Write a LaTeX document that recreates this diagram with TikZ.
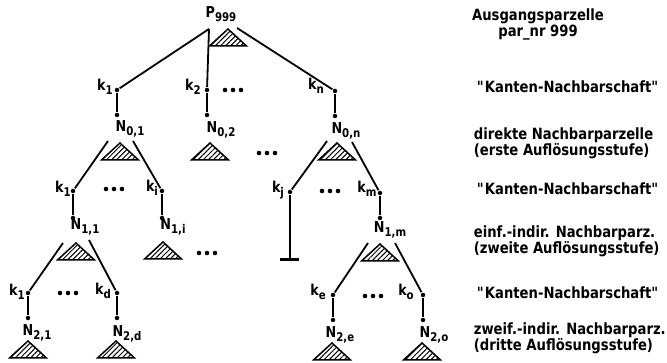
\documentclass[tikz,border=0pt]{standalone}
\usepackage{fontspec}
\setmainfont{DejaVu Sans}[FakeStretch=0.85]
\usetikzlibrary{patterns.meta}
\newcommand\labsub[2]{#1\raisebox{-4.5pt}{\fontsize{12}{12}\selectfont#2}}
\newcommand\qq{\XeTeXglyph\number\XeTeXcharglyph"22\relax}
\begin{document}
\begin{tikzpicture}[x=1pt,y=-1pt, line width=1.8pt,
 dot/.style={circle,fill,inner sep=0pt,minimum size=4.5pt},
 lbl/.style={font=\fontsize{15}{17}\selectfont\bfseries, inner sep=0pt},
 note/.style={font=\fontsize{15.5}{16}\selectfont\bfseries, inner sep=0pt, anchor=west},
 htri/.pic={\draw[line width=1.5pt, pattern={Lines[angle=45,distance=3.6pt,line width=1pt]}] (0,0) -- (18.5,17) -- (-18.5,17) -- cycle;},
 ell/.pic={\foreach \i in {-8,0,8} \fill (\i,0) circle (2.3pt);}
]
\useasboundingbox (0,0) rectangle (667,363);

% ---------- level 0 (root) ----------
\node[lbl] (P) at (221,14) {\labsub{P}{999}};
\coordinate (rootL) at (209,29);
\coordinate (rootR) at (237,28);
\pic at (228,29) {htri};

\node[dot] (ka1) at (117,90) {};
\node[dot] (ka2) at (207,90) {};
\node[dot] (kan) at (335,91) {};
\node[dot] (n01) at (117,115) {};
\node[dot] (n02) at (207,115) {};
\node[dot] (n0n) at (335,116) {};
\draw (rootL) -- (ka1);
\draw (rootL) -- (ka2);
\draw (rootR) -- (kan);
\draw (ka1) -- (n01);
\draw (ka2) -- (n02);
\draw (kan) -- (n0n);
\node[lbl] (lka1) at (105,87) {\labsub{k}{1}};
\node[lbl] (lka2) at (193,87) {\labsub{k}{2}};
\node[lbl] (lkan) at (316,86) {\labsub{k}{n}};
\pic at (233,90) {ell};

% ---------- level 1 ----------
\node[lbl] (N01) at (130,129) {\labsub{N}{0,1}};
\node[lbl] (N02) at (221,130) {\labsub{N}{0,2}};
\node[lbl] (N0n) at (346,131) {\labsub{N}{0,n}};
\pic at (120,143) {htri};
\pic at (210,143) {htri};
\pic at (337,143) {htri};
\pic at (267,153) {ell};

\coordinate (s01l) at (108,141);
\coordinate (s01r) at (133,141);
\coordinate (s0nl) at (327,141);
\coordinate (s0nr) at (352,142);
\node[dot] (kb1) at (73,191) {};
\node[dot] (kbi) at (162,191) {};
\node[dot] (kbj) at (290,192) {};
\node[dot] (kbm) at (380,193) {};
\node[dot] (n11) at (73,218) {};
\node[dot] (n1i) at (162,218) {};
\node[dot] (n1m) at (380,218) {};
\coordinate (tend) at (290,260);
\draw (s01l) -- (kb1);
\draw (s01r) -- (kbi);
\draw (s0nl) -- (kbj);
\draw (s0nr) -- (kbm);
\draw (kb1) -- (n11);
\draw (kbi) -- (n1i);
\draw (kbj) -- (tend);
\draw (kbm) -- (n1m);
\draw[line width=3pt] ([xshift=-10pt]tend) -- ([xshift=9pt]tend);
\node[lbl] (lkb1) at (63,189) {\labsub{k}{1}};
\node[lbl] (lkbi) at (152,188) {\labsub{k}{i}};
\node[lbl] (lkbj) at (278,190) {\labsub{k}{j}};
\node[lbl] (lkbm) at (367,189) {\labsub{k}{m}};
\pic at (114,189) {ell};
\pic at (330,191) {ell};

% ---------- level 2 ----------
\node[lbl] (N11) at (85,227) {\labsub{N}{1,1}};
\node[lbl] (N1i) at (173,227) {\labsub{N}{1,i}};
\node[lbl] (N1m) at (390,230) {\labsub{N}{1,m}};
\pic at (76,243) {htri};
\pic at (163,242) {htri};
\pic at (380,244) {htri};
\pic at (207,253) {ell};

\coordinate (s11l) at (63,243);
\coordinate (s11r) at (89,240);
\coordinate (s1ml) at (368,243);
\coordinate (s1mr) at (395,243);
\node[dot] (kc1) at (28,293) {};
\node[dot] (kcd) at (117,293) {};
\node[dot] (kce) at (333,295) {};
\node[dot] (kco) at (423,295) {};
\node[dot] (n21) at (28,318) {};
\node[dot] (n2d) at (117,318) {};
\node[dot] (n2e) at (333,320) {};
\node[dot] (n2o) at (423,320) {};
\draw (s11l) -- (kc1);
\draw (s11r) -- (kcd);
\draw (s1ml) -- (kce);
\draw (s1mr) -- (kco);
\draw (kc1) -- (n21);
\draw (kcd) -- (n2d);
\draw (kce) -- (n2e);
\draw (kco) -- (n2o);
\node[lbl] (lkc1) at (17,292) {\labsub{k}{1}};
\node[lbl] (lkcd) at (103,291) {\labsub{k}{d}};
\node[lbl] (lkce) at (318,292) {\labsub{k}{e}};
\node[lbl] (lkco) at (406,292) {\labsub{k}{o}};
\pic at (68,293) {ell};
\pic at (373,296) {ell};

% ---------- level 3 ----------
\node[lbl] (N21) at (37,333) {\labsub{N}{2,1}};
\node[lbl] (N2d) at (127,334) {\labsub{N}{2,d}};
\node[lbl] (N2e) at (340,335) {\labsub{N}{2,e}};
\node[lbl] (N2o) at (434,335) {\labsub{N}{2,o}};
\pic at (28,341) {htri};
\pic at (116,341) {htri};
\pic at (332,343) {htri};
\pic at (422,343) {htri};

% ---------- right column ----------
\node[note, anchor=center, align=center] (t0) at (538,24) {Ausgangsparzelle\\par\_nr 999};
\node[note] (t1) at (476,87) {\qq Kanten-Nachbarschaft\qq};
\node[note, align=left] (t2) at (473,143) {direkte Nachbarparzelle\\(erste Auflösungsstufe)};
\node[note] (t3) at (476,189) {\qq Kanten-Nachbarschaft\qq};
\node[note, align=left] (t4) at (473,241) {einf.-indir. Nachbarparz.\\(zweite Auflösungsstufe)};
\node[note] (t5) at (476,293) {\qq Kanten-Nachbarschaft\qq};
\node[note, align=left] (t6) at (473,338) {zweif.-indir. Nachbarparz.\\(dritte Auflösungsstufe)};
\end{tikzpicture}
\end{document}
